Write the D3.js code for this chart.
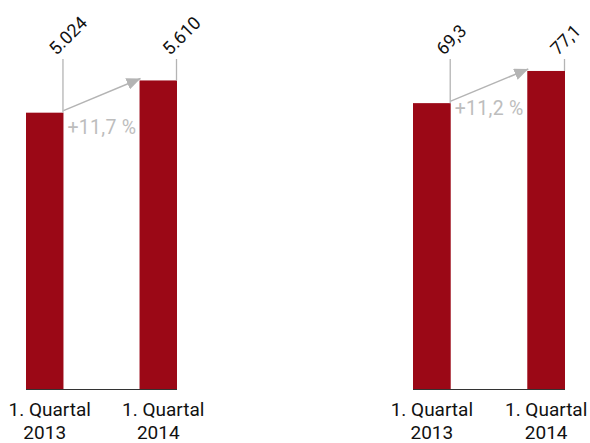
<!DOCTYPE html>
<html><head><meta charset="utf-8">
<script src="https://cdn.jsdelivr.net/npm/d3@7"></script>
<style>html,body{margin:0;padding:0;background:#fff}svg{display:block}text{font-family:Roboto,"Open Sans",sans-serif}</style>
</head><body><div id="chart"></div>
<script>
// ---- data ----
const categoryLine1 = ["1. Quartal", "1. Quartal"];
const categoryLine2 = ["2013", "2014"];
const valuesLeft = [5024, 5610];
const valueLabelsLeft = ["5.024", "5.610"];
const changeLeft = "+11,7 %";
const yMaxLeft = 6000;
const valuesRight = [69.3, 77.1];
const valueLabelsRight = ["69,3", "77,1"];
const changeRight = "+11,2 %";
const yMaxRight = 80;

// ---- layout ----
const W = 590, H = 443;
const BAR = "#9b0816", GREY = "#b4b4b4";
const panels = [
  {id: "L", values: valuesLeft, labels: valueLabelsLeft, change: changeLeft, yMax: yMaxLeft, xRange: [26, 177], pctDy: 21, line1Dx: 5},
  {id: "R", values: valuesRight, labels: valueLabelsRight, change: changeRight, yMax: yMaxRight, xRange: [413, 565], pctDy: 12, line1Dx: 0}
];
const y0 = 389, yTop = 59;

const svg = d3.select("#chart").append("svg").attr("width", W).attr("height", H);
const defs = svg.append("defs");
defs.append("marker")
  .attr("id", "ah").attr("viewBox", "0 0 14 12").attr("refX", 14).attr("refY", 6)
  .attr("markerWidth", 14).attr("markerHeight", 12).attr("markerUnits", "userSpaceOnUse")
  .attr("orient", "auto")
  .append("path").attr("d", "M0,0 L14,6 L0,12 Z").attr("fill", GREY);

panels.forEach(p => {
  const x = d3.scaleBand().domain(categoryLine2).range(p.xRange).paddingInner(0.67).paddingOuter(0);
  const y = d3.scaleLinear().domain([0, p.yMax]).range([y0, yTop]);
  const g = svg.append("g");
  const data = categoryLine2.map((c, i) => ({c, v: p.values[i], lab: p.labels[i], l1: categoryLine1[i], id: p.id + i}));

  g.selectAll("rect.bar").data(data).join("rect").attr("class", "bar")
    .attr("x", d => x(d.c)).attr("width", x.bandwidth())
    .attr("y", d => y(d.v)).attr("height", d => y(0) - y(d.v)).attr("fill", BAR);

  g.append("line").attr("x1", p.xRange[0]).attr("x2", p.xRange[1])
    .attr("y1", y(0) + 0.5).attr("y2", y(0) + 0.5).attr("stroke", "#333").attr("stroke-width", 1);

  g.selectAll("line.lead").data(data).join("line").attr("class", "lead")
    .attr("x1", d => x(d.c) + x.bandwidth() - 0.5).attr("x2", d => x(d.c) + x.bandwidth() - 0.5)
    .attr("y1", y(p.yMax)).attr("y2", d => y(d.v))
    .attr("stroke", GREY).attr("stroke-width", 1.3);

  // value labels along a 45° path
  data.forEach(d => {
    const sx = x(d.c) + x.bandwidth() - 7, sy = y(p.yMax) - 3;
    defs.append("path").attr("id", "vp" + d.id).attr("d", `M${sx},${sy} L${sx + 60},${sy - 60}`);
  });
  g.selectAll("text.val").data(data).join("text").attr("class", "val")
    .attr("font-size", 18).attr("fill", "#111")
    .append("textPath").attr("href", d => "#vp" + d.id).text(d => d.lab);

  const x1 = x(categoryLine2[0]) + x.bandwidth(), yA = y(p.values[0]) - 2;
  const x2 = x(categoryLine2[1]) + 1, yB = y(p.values[1]) - 2;
  g.append("line").attr("x1", x1).attr("y1", yA).attr("x2", x2).attr("y2", yB)
    .attr("stroke", GREY).attr("stroke-width", 1.5).attr("marker-end", "url(#ah)");

  g.append("text").attr("x", x1 + 4).attr("y", y(p.values[0]) + p.pctDy)
    .attr("font-size", 19.5).attr("letter-spacing", 0.3).attr("fill", "#bdbdbd").text(p.change);

  g.selectAll("text.c1").data(data).join("text").attr("class", "c1")
    .attr("x", d => x(d.c) + x.bandwidth() / 2 + p.line1Dx).attr("y", 416)
    .attr("text-anchor", "middle").attr("font-size", 19).attr("fill", "#111").text(d => d.l1);
  g.selectAll("text.c2").data(data).join("text").attr("class", "c2")
    .attr("x", d => x(d.c) + x.bandwidth() / 2).attr("y", 439)
    .attr("text-anchor", "middle").attr("font-size", 19).attr("fill", "#111").text(d => d.c);
});
</script></body></html>
